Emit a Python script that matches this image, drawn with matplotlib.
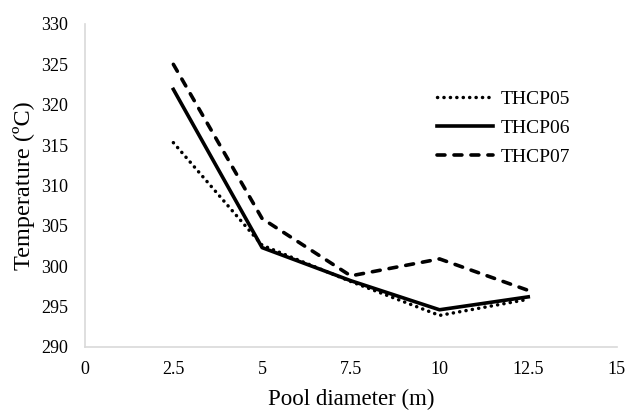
import matplotlib.pyplot as plt

diameter = [2.5, 5, 7.5, 10, 12.5]
thcp05 = [315.3, 302.6, 298.1, 293.9, 295.9]
thcp06 = [321.9, 302.3, 298.2, 294.6, 296.2]
thcp07 = [325.0, 305.9, 298.8, 300.9, 297.0]
x_ticks = [0, 2.5, 5, 7.5, 10, 12.5, 15]
x_labels = ['0', '2.5', '5', '7.5', '10', '12.5', '15']
y_ticks = list(range(290, 331, 5))

plt.rcParams['font.family'] = ['Liberation Serif', 'DejaVu Serif']

fig = plt.figure(figsize=(6.27, 4.13), dpi=100)
ax = fig.add_axes([0.135, 0.160, 0.849, 0.782])

ax.plot(diameter, thcp05, color='black', lw=2.5, linestyle=(0, (0.05, 1.8)),
        dash_capstyle='round', label='THCP05')
ax.plot(diameter, thcp06, color='black', lw=2.6, label='THCP06')
ax.plot(diameter, thcp07, color='black', lw=2.6, linestyle=(0, (2.2, 2.5)),
        dash_capstyle='round', label='THCP07')

ax.set_xlim(0, 15)
ax.set_ylim(290, 330)
ax.set_xticks(x_ticks)
ax.set_xticklabels(x_labels)
ax.set_yticks(y_ticks)
ax.tick_params(length=0, labelsize=13)
ax.tick_params(axis='y', pad=12)
ax.tick_params(axis='x', pad=10)
for s in ['top', 'right']:
    ax.spines[s].set_visible(False)
for s in ['left', 'bottom']:
    ax.spines[s].set_color('#d9d9d9')
    ax.spines[s].set_linewidth(1.2)

ax.set_xlabel('Pool diameter (m)', fontsize=16.5, labelpad=8)
ax.set_ylabel('Temperature (ºC)', fontsize=17.5, labelpad=4)

ax.legend(loc='upper left', bbox_to_anchor=(0.697, 0.782), frameon=False,
          fontsize=14, handlelength=2.9, handletextpad=0.35, labelspacing=0.6,
          borderpad=0, borderaxespad=0, bbox_transform=fig.transFigure)

fig.savefig('out.png', dpi=100)
